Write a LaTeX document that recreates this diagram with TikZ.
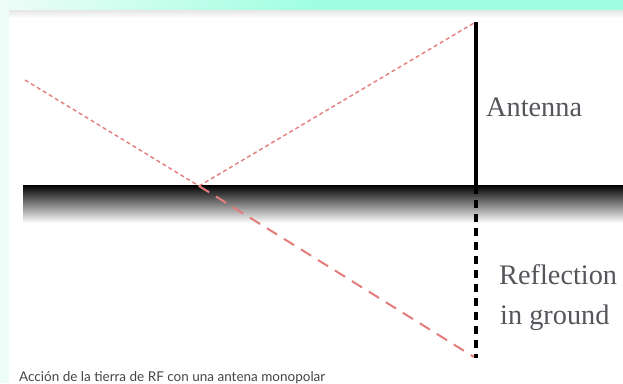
\documentclass[tikz,border=0pt]{standalone}
\usepackage{fontspec}
\setmainfont{Liberation Serif}
\newfontfamily\capfont{Lato}
\definecolor{mint}{HTML}{EEFDF8}
\definecolor{aqua}{HTML}{9EFFE0}
\definecolor{ray}{HTML}{E57C7C}
\definecolor{labelgray}{HTML}{55555C}
\definecolor{capgray}{HTML}{454545}
\tikzset{
  ray/.style={draw=ray, line width=1.4pt, dash pattern=on 4pt off 3pt},
  imageray/.style={draw=ray, line width=2pt, dash pattern=on 12pt off 8pt},
  mast/.style={draw=black, line width=3.6pt},
  imagemast/.style={draw=black, line width=3.6pt, dash pattern=on 8pt off 6pt},
  lbl/.style={font=\fontsize{28.3}{30}\selectfont, text=labelgray, inner sep=0pt, anchor=base west},
}
\begin{document}
\begin{tikzpicture}[x=1pt,y=-1pt]
  \useasboundingbox (0,0) rectangle (623,383);
  \fill[white] (0,0) rectangle (623,383);
  % page chrome
  \fill[mint] (0,0) rectangle (9,383);
  \shade[left color=mint, right color=aqua] (0,0) rectangle (320,10);
  \fill[aqua] (319.5,0) rectangle (623,10);
  \shade[top color=black!10, bottom color=white] (9,10) rectangle (623,18);
  % ground
  \shade[top color=black, bottom color=white, middle color=black!50] (23,185) rectangle (623,223);
  % coordinates
  \coordinate (src) at (25,80);
  \coordinate (refl) at (199,186);
  \coordinate (top) at (476,22);
  \coordinate (gnd) at (476,186);
  \coordinate (bot) at (476,358);
  \coordinate (rtop) at (474,23);
  \coordinate (rbot) at (474,357);
  % antenna and image
  \draw[mast] (top) -- (gnd);
  \draw[imagemast] (gnd) -- (bot);
  % rays
  \draw[ray] (src) -- (refl);
  \draw[ray] (refl) -- (rtop);
  \draw[imageray] (refl) -- (rbot);
  % labels
  \node[lbl] (ant) at (486,116) {Antenna};
  \node[lbl] (refl1) at (499,284) {Reflection};
  \node[lbl] (refl2) at (500,324) {in ground};
  \node[font=\capfont\fontsize{13.5}{15}\selectfont, text=capgray, inner sep=0pt, anchor=base west] (cap) at (19,381) {Acción de la tierra de RF con una antena monopolar};
\end{tikzpicture}
\end{document}
